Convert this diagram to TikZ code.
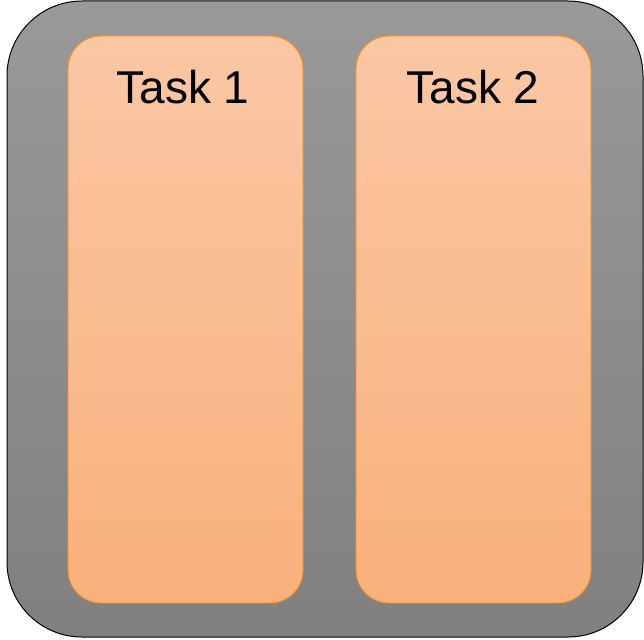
\documentclass[tikz,border=0pt]{standalone}
\usepackage{fontspec}
\setmainfont{Liberation Sans}
\definecolor{graytop}{RGB}{153,153,153}
\definecolor{graybot}{RGB}{128,128,128}
\definecolor{taskt}{RGB}{250,199,164}
\definecolor{taskb}{RGB}{249,176,124}
\definecolor{taskline}{RGB}{246,146,30}
\begin{document}
\begin{tikzpicture}[x=1pt,y=-1pt,
  outerbox/.style={draw=black,line width=1pt,rounded corners=75pt,top color=graytop,bottom color=graybot,inner sep=0pt},
  taskbox/.style={draw=taskline,line width=0.9pt,rounded corners=33pt,top color=taskt,bottom color=taskb,inner sep=0pt},
  tasklabel/.style={font=\fontsize{46}{55}\selectfont,anchor=base,inner sep=0pt}]
\useasboundingbox (0,0) rectangle (644,639);
\node[outerbox,minimum width=636pt,minimum height=636pt] (outer) at (325,319) {};
\node[taskbox,minimum width=235pt,minimum height=567pt] (t1) at (185.5,319.5) {};
\node[taskbox,minimum width=235pt,minimum height=567pt] (t2) at (473.5,319.5) {};
\node[tasklabel] (l1) at (183,104) {Task 1};
\node[tasklabel] (l2) at (473,104) {Task 2};
\end{tikzpicture}
\end{document}
